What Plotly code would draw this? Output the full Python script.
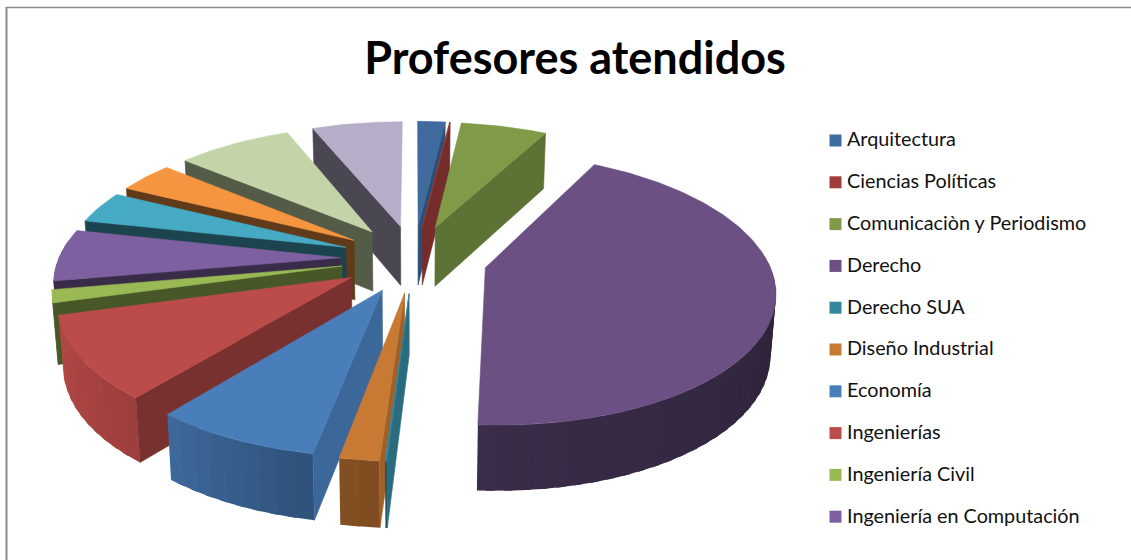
import math
import numpy as np
import plotly.graph_objects as go

# Legend names and slice values (the last four slices have no visible legend row)
categories = ["Arquitectura", "Ciencias Políticas", "Comunicaciòn y Periodismo", "Derecho",
              "Derecho SUA", "Diseño Industrial", "Economía", "Ingenierías",
              "Ingeniería Civil", "Ingeniería en Computación"]
values = [6.7, 0.3, 21, 155.5, 0.3, 6.7, 28.5, 35.5, 5.5, 22.5, 14, 13.5, 28, 22]
colors = ["#3f6b9f", "#9e3d3b", "#7f9b48", "#6a5083", "#35869f", "#c87a34", "#4a7ebb",
          "#bc4c4a", "#98b954", "#7d60a0", "#46aac5", "#f59540", "#c3d5a8", "#b6adc8"]

# Projection of the tilted disc onto the page, in pixels
CX, CY, RX, RY = 414.0, 258.5, 282.0, 130.0
PERSP, EXPLODE, DEPTH = 0.154, 0.26, 60.0


def project(u, v, bottom=False):
    s = 1 / (1 + PERSP * v)
    x = CX + RX * u * s
    y = CY - RY * v * s
    if bottom:
        x = CX + (x - CX) * 0.985
        y = y + DEPTH * math.sqrt(s)
    return x, y


def shade(hex_color, k):
    r, g, b = (int(hex_color[i:i + 2], 16) for i in (1, 3, 5))
    return f"rgb({int(r * k)},{int(g * k)},{int(b * k)})"


def rim_factor(angle):
    return float(np.interp(angle, [85, 183.5, 183.8, 192, 218, 253, 255, 280],
                           [0.42, 0.56, 0.63, 0.66, 0.83, 0.95, 0.45, 0.40]))


def cut_factor(angle):
    return float(np.interp(angle, [183, 193, 218, 255, 285, 300, 314, 338, 360],
                           [0.80, 0.83, 0.65, 0.47, 0.40, 0.39, 0.45, 0.41, 0.40]))


fig = go.Figure()


def polygon(points, color, edge=0.6):
    xs, ys = zip(*points)
    fig.add_trace(go.Scatter(x=list(xs) + [xs[0]], y=list(ys) + [ys[0]], mode="lines",
                             fill="toself", fillcolor=color,
                             line=dict(color=color, width=edge),
                             hoverinfo="skip", showlegend=False))


# Angular extent of each slice, clockwise from twelve o'clock
edges = np.cumsum([0] + values) / sum(values) * 360.0
slices = []
for i, col in enumerate(colors):
    a0, a1 = float(edges[i]), float(edges[i + 1])
    mid = math.radians((a0 + a1) / 2)
    slices.append((EXPLODE * math.cos(mid), EXPLODE * math.sin(mid), a0, a1, col))

# Painter's order: slices furthest from the viewer first
for ov, ou, a0, a1, col in sorted(slices, key=lambda t: -t[0]):
    def rim(a):
        r = math.radians(a)
        return ou + math.sin(r), ov + math.cos(r)

    # Outer wall, drawn as overlapping strips so the shading has no seams
    lo, hi = max(a0, 85.0), min(a1, 278.0)
    if hi > lo:
        n = max(1, int((hi - lo) / 3))
        steps = np.linspace(lo, hi, n + 1)
        for s0, s1 in zip(steps[:-1], steps[1:]):
            p0, p1 = rim(s0), rim(min(hi, s1 + 1.5))
            polygon([project(*p0), project(*p1), project(*p1, True), project(*p0, True)],
                    shade(col, rim_factor((s0 + s1) / 2)), edge=0)

    # Radial cut faces that turn toward the viewer
    if 180 < a0 < 360:
        u, v = rim(a0)
        polygon([project(ou, ov), project(u, v), project(u, v, True), project(ou, ov, True)],
                shade(col, cut_factor(a0)))
    if 0 < a1 <= 180:
        u, v = rim(a1)
        polygon([project(ou, ov), project(u, v), project(u, v, True), project(ou, ov, True)],
                shade(col, 0.74))

    # Top surface
    arc = np.linspace(a0, a1, max(3, int(a1 - a0) + 2))
    polygon([project(ou, ov)] + [project(*rim(a)) for a in arc], col)

# Legend column: swatches and their labels
legend_y = [140.5 + 41.8 * i for i in range(len(categories))]
fig.add_trace(go.Scatter(x=[835.5] * len(categories), y=legend_y, mode="markers",
                         marker=dict(symbol="square", size=12, color=colors[:len(categories)]),
                         hoverinfo="skip", showlegend=False))
fig.add_trace(go.Scatter(x=[847] * len(categories), y=[y + 1 for y in legend_y], mode="text",
                         text=categories, textposition="middle right",
                         textfont=dict(family="Lato", size=19.8, color="#111111"),
                         hoverinfo="skip", showlegend=False))

fig.update_layout(
    width=1131, height=560, autosize=False,
    margin=dict(l=0, r=0, t=0, b=0),
    paper_bgcolor="white", plot_bgcolor="white", showlegend=False,
    title=dict(text="<b>Profesores atendidos</b>", x=575 / 1131, xanchor="center",
               y=1 - 58 / 560, yanchor="middle",
               font=dict(family="Lato", size=45, color="#000000")),
    xaxis=dict(range=[0, 1131], visible=False, fixedrange=True),
    yaxis=dict(range=[560, 0], visible=False, fixedrange=True),
    shapes=[
        dict(type="line", xref="x", yref="y", x0=6.5, x1=6.5, y0=7, y1=560,
             line=dict(color="#8c8c8c", width=2)),
        dict(type="line", xref="x", yref="y", x0=6, x1=1131, y0=7.5, y1=7.5,
             line=dict(color="#8c8c8c", width=1.5)),
    ],
)

fig.write_html("out.html")
